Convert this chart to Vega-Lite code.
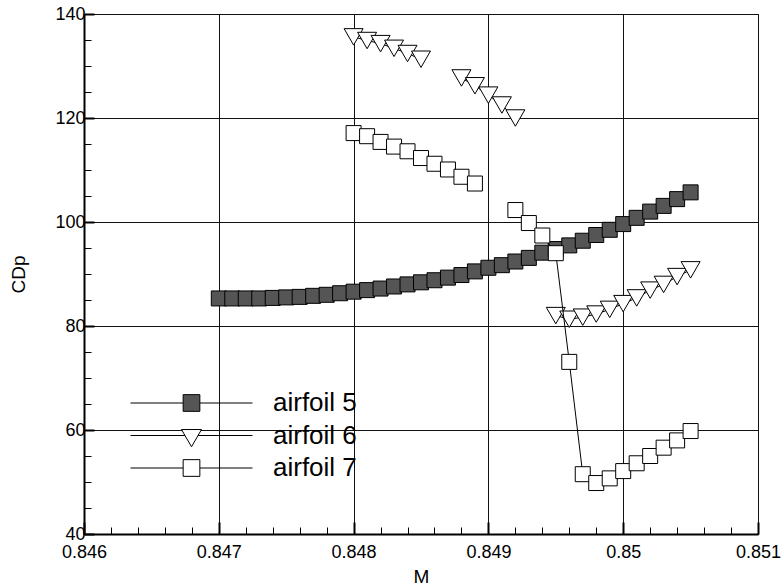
{
  "$schema": "https://vega.github.io/schema/vega-lite/v6.json",
  "width": 674,
  "height": 520,
  "autosize": {"type": "none"},
  "padding": {"left": 84, "top": 14, "right": 26, "bottom": 52},
  "background": "white",
  "config": {"view": {"stroke": "black", "strokeWidth": 1}, "font": "Liberation Sans"},
  "data": {"values": [
    {"s": "airfoil 5", "seg": "5", "M": 0.847, "CDp": 85.3},
    {"s": "airfoil 5", "seg": "5", "M": 0.8471, "CDp": 85.3},
    {"s": "airfoil 5", "seg": "5", "M": 0.8472, "CDp": 85.3},
    {"s": "airfoil 5", "seg": "5", "M": 0.8473, "CDp": 85.3},
    {"s": "airfoil 5", "seg": "5", "M": 0.8474, "CDp": 85.4},
    {"s": "airfoil 5", "seg": "5", "M": 0.8475, "CDp": 85.5},
    {"s": "airfoil 5", "seg": "5", "M": 0.8476, "CDp": 85.6},
    {"s": "airfoil 5", "seg": "5", "M": 0.8477, "CDp": 85.8},
    {"s": "airfoil 5", "seg": "5", "M": 0.8478, "CDp": 86.0},
    {"s": "airfoil 5", "seg": "5", "M": 0.8479, "CDp": 86.3},
    {"s": "airfoil 5", "seg": "5", "M": 0.848, "CDp": 86.6},
    {"s": "airfoil 5", "seg": "5", "M": 0.8481, "CDp": 86.9},
    {"s": "airfoil 5", "seg": "5", "M": 0.8482, "CDp": 87.2},
    {"s": "airfoil 5", "seg": "5", "M": 0.8483, "CDp": 87.6},
    {"s": "airfoil 5", "seg": "5", "M": 0.8484, "CDp": 88.0},
    {"s": "airfoil 5", "seg": "5", "M": 0.8485, "CDp": 88.4},
    {"s": "airfoil 5", "seg": "5", "M": 0.8486, "CDp": 88.8},
    {"s": "airfoil 5", "seg": "5", "M": 0.8487, "CDp": 89.3},
    {"s": "airfoil 5", "seg": "5", "M": 0.8488, "CDp": 89.8},
    {"s": "airfoil 5", "seg": "5", "M": 0.8489, "CDp": 90.5},
    {"s": "airfoil 5", "seg": "5", "M": 0.849, "CDp": 91.2},
    {"s": "airfoil 5", "seg": "5", "M": 0.8491, "CDp": 91.7},
    {"s": "airfoil 5", "seg": "5", "M": 0.8492, "CDp": 92.4},
    {"s": "airfoil 5", "seg": "5", "M": 0.8493, "CDp": 93.1},
    {"s": "airfoil 5", "seg": "5", "M": 0.8494, "CDp": 94.1},
    {"s": "airfoil 5", "seg": "5", "M": 0.8495, "CDp": 94.8},
    {"s": "airfoil 5", "seg": "5", "M": 0.8496, "CDp": 95.5},
    {"s": "airfoil 5", "seg": "5", "M": 0.8497, "CDp": 96.4},
    {"s": "airfoil 5", "seg": "5", "M": 0.8498, "CDp": 97.5},
    {"s": "airfoil 5", "seg": "5", "M": 0.8499, "CDp": 98.5},
    {"s": "airfoil 5", "seg": "5", "M": 0.85, "CDp": 99.6},
    {"s": "airfoil 5", "seg": "5", "M": 0.8501, "CDp": 100.8},
    {"s": "airfoil 5", "seg": "5", "M": 0.8502, "CDp": 102.0},
    {"s": "airfoil 5", "seg": "5", "M": 0.8503, "CDp": 103.1},
    {"s": "airfoil 5", "seg": "5", "M": 0.8504, "CDp": 104.4},
    {"s": "airfoil 5", "seg": "5", "M": 0.8505, "CDp": 105.7},
    {"s": "airfoil 6", "seg": "6a", "M": 0.848, "CDp": 135.6},
    {"s": "airfoil 6", "seg": "6a", "M": 0.8481, "CDp": 134.9},
    {"s": "airfoil 6", "seg": "6a", "M": 0.8482, "CDp": 134.3},
    {"s": "airfoil 6", "seg": "6a", "M": 0.8483, "CDp": 133.4},
    {"s": "airfoil 6", "seg": "6a", "M": 0.8484, "CDp": 132.4},
    {"s": "airfoil 6", "seg": "6a", "M": 0.8485, "CDp": 131.3},
    {"s": "airfoil 6", "seg": "6b", "M": 0.8488, "CDp": 127.7},
    {"s": "airfoil 6", "seg": "6b", "M": 0.8489, "CDp": 126.2},
    {"s": "airfoil 6", "seg": "6b", "M": 0.849, "CDp": 124.4},
    {"s": "airfoil 6", "seg": "6b", "M": 0.8491, "CDp": 122.5},
    {"s": "airfoil 6", "seg": "6b", "M": 0.8492, "CDp": 120.0},
    {"s": "airfoil 6", "seg": "6c", "M": 0.8495, "CDp": 82.0},
    {"s": "airfoil 6", "seg": "6c", "M": 0.8496, "CDp": 81.3},
    {"s": "airfoil 6", "seg": "6c", "M": 0.8497, "CDp": 81.7},
    {"s": "airfoil 6", "seg": "6c", "M": 0.8498, "CDp": 82.3},
    {"s": "airfoil 6", "seg": "6c", "M": 0.8499, "CDp": 83.2},
    {"s": "airfoil 6", "seg": "6c", "M": 0.85, "CDp": 84.3},
    {"s": "airfoil 6", "seg": "6c", "M": 0.8501, "CDp": 85.4},
    {"s": "airfoil 6", "seg": "6c", "M": 0.8502, "CDp": 86.9},
    {"s": "airfoil 6", "seg": "6c", "M": 0.8503, "CDp": 88.0},
    {"s": "airfoil 6", "seg": "6c", "M": 0.8504, "CDp": 89.5},
    {"s": "airfoil 6", "seg": "6c", "M": 0.8505, "CDp": 90.8},
    {"s": "airfoil 7", "seg": "7a", "M": 0.848, "CDp": 117.1},
    {"s": "airfoil 7", "seg": "7a", "M": 0.8481, "CDp": 116.5},
    {"s": "airfoil 7", "seg": "7a", "M": 0.8482, "CDp": 115.4},
    {"s": "airfoil 7", "seg": "7a", "M": 0.8483, "CDp": 114.5},
    {"s": "airfoil 7", "seg": "7a", "M": 0.8484, "CDp": 113.6},
    {"s": "airfoil 7", "seg": "7a", "M": 0.8485, "CDp": 112.3},
    {"s": "airfoil 7", "seg": "7a", "M": 0.8486, "CDp": 111.2},
    {"s": "airfoil 7", "seg": "7a", "M": 0.8487, "CDp": 110.1},
    {"s": "airfoil 7", "seg": "7a", "M": 0.8488, "CDp": 108.7},
    {"s": "airfoil 7", "seg": "7a", "M": 0.8489, "CDp": 107.4},
    {"s": "airfoil 7", "seg": "7b", "M": 0.8492, "CDp": 102.3},
    {"s": "airfoil 7", "seg": "7b", "M": 0.8493, "CDp": 99.8},
    {"s": "airfoil 7", "seg": "7b", "M": 0.8494, "CDp": 97.4},
    {"s": "airfoil 7", "seg": "7b", "M": 0.8495, "CDp": 94.0},
    {"s": "airfoil 7", "seg": "7b", "M": 0.8496, "CDp": 73.1},
    {"s": "airfoil 7", "seg": "7b", "M": 0.8497, "CDp": 51.5},
    {"s": "airfoil 7", "seg": "7b", "M": 0.8498, "CDp": 49.8},
    {"s": "airfoil 7", "seg": "7b", "M": 0.8499, "CDp": 50.7},
    {"s": "airfoil 7", "seg": "7b", "M": 0.85, "CDp": 52.1},
    {"s": "airfoil 7", "seg": "7b", "M": 0.8501, "CDp": 53.6},
    {"s": "airfoil 7", "seg": "7b", "M": 0.8502, "CDp": 55.0},
    {"s": "airfoil 7", "seg": "7b", "M": 0.8503, "CDp": 56.6},
    {"s": "airfoil 7", "seg": "7b", "M": 0.8504, "CDp": 58.0},
    {"s": "airfoil 7", "seg": "7b", "M": 0.8505, "CDp": 59.8}
  ]},
  "encoding": {
    "x": {
      "field": "M", "type": "quantitative",
      "scale": {"domain": [0.846, 0.851], "nice": false, "zero": false},
      "axis": {
        "title": "M",
        "values": [0.846, 0.8462, 0.8464, 0.8466, 0.8468, 0.847, 0.8472, 0.8474, 0.8476, 0.8478, 0.848, 0.8482, 0.8484, 0.8486, 0.8488, 0.849, 0.8492, 0.8494, 0.8496, 0.8498, 0.85, 0.8502, 0.8504, 0.8506, 0.8508, 0.851],
        "labelExpr": "abs(datum.value*1000-round(datum.value*1000))<0.01 ? format(datum.value, '.4~r') : ''",
        "labelFlush": false,
        "labelOverlap": false,
        "labelFont": "Liberation Sans",
        "labelFontSize": 18,
        "labelColor": "black",
        "labelPadding": 21,
        "domainColor": "black",
        "domainWidth": 2,
        "tickColor": "black",
        "tickSize": {"condition": {"test": "abs(datum.value*1000-round(datum.value*1000))<0.01", "value": -12}, "value": -7},
        "tickWidth": {"condition": {"test": "abs(datum.value*1000-round(datum.value*1000))<0.01", "value": 2}, "value": 1},
        "grid": true,
        "gridColor": "#111111",
        "gridWidth": 1,
        "gridOpacity": {"condition": {"test": "abs(datum.value*1000-round(datum.value*1000))<0.01", "value": 1}, "value": 0},
        "titleFont": "Liberation Sans",
        "titleFontSize": 19,
        "titleFontWeight": "normal",
        "titleColor": "black",
        "titlePadding": 1
      }
    },
    "y": {
      "field": "CDp", "type": "quantitative",
      "scale": {"domain": [40, 140], "nice": false, "zero": false},
      "axis": {
        "title": "CDp",
        "values": [40, 45, 50, 55, 60, 65, 70, 75, 80, 85, 90, 95, 100, 105, 110, 115, 120, 125, 130, 135, 140],
        "labelExpr": "datum.value % 20 == 0 ? datum.label : ''",
        "labelOverlap": false,
        "labelFont": "Liberation Sans",
        "labelFontSize": 18,
        "labelColor": "black",
        "labelPadding": 9,
        "domainColor": "black",
        "domainWidth": 2,
        "tickColor": "black",
        "tickSize": {"condition": {"test": "datum.value % 20 == 0", "value": -10}, "value": -7},
        "tickWidth": {"condition": {"test": "datum.value % 20 == 0", "value": 2}, "value": 1},
        "grid": true,
        "gridColor": "#111111",
        "gridWidth": 1,
        "gridOpacity": {"condition": {"test": "datum.value % 20 == 0", "value": 1}, "value": 0},
        "titleFont": "Liberation Sans",
        "titleFontSize": 19,
        "titleFontWeight": "normal",
        "titleColor": "black",
        "titlePadding": 26
      }
    }
  },
  "layer": [
    {
      "transform": [{"filter": "datum.s == 'airfoil 5'"}],
      "mark": {"type": "line", "color": "black", "strokeWidth": 1},
      "encoding": {"detail": {"field": "seg", "type": "nominal"}}
    },
    {
      "transform": [{"filter": "datum.s == 'airfoil 5'"}],
      "mark": {"type": "point", "shape": "square", "filled": true, "fill": "#555555", "stroke": "black", "strokeWidth": 1, "size": 225, "opacity": 1}
    },
    {
      "transform": [{"filter": "datum.s == 'airfoil 6'"}],
      "mark": {"type": "line", "color": "black", "strokeWidth": 1},
      "encoding": {"detail": {"field": "seg", "type": "nominal"}}
    },
    {
      "transform": [{"filter": "datum.s == 'airfoil 6'"}],
      "mark": {"type": "point", "shape": "triangle-down", "filled": true, "fill": "white", "stroke": "black", "strokeWidth": 1, "size": 361, "opacity": 1}
    },
    {
      "transform": [{"filter": "datum.s == 'airfoil 7'"}],
      "mark": {"type": "line", "color": "black", "strokeWidth": 1},
      "encoding": {"detail": {"field": "seg", "type": "nominal"}}
    },
    {
      "transform": [{"filter": "datum.s == 'airfoil 7'"}],
      "mark": {"type": "point", "shape": "square", "filled": true, "fill": "white", "stroke": "black", "strokeWidth": 1, "size": 225, "opacity": 1}
    },
    {
      "transform": [{"filter": "false"}],
      "mark": {"type": "point", "filled": true, "strokeWidth": 1, "opacity": 1},
      "encoding": {
        "shape": {
          "field": "s", "type": "nominal",
          "scale": {"domain": ["airfoil 5", "airfoil 6", "airfoil 7"], "range": ["M-1,0H-0.137M0.137,0H1M-0.137,-0.137H0.137V0.137H-0.137Z", "M-1,0H-0.107M0.107,0H1M-0.164,-0.098H0.164L0,0.185Z", "M-1,0H-0.137M0.137,0H1M-0.137,-0.137H0.137V0.137H-0.137Z"]},
          "legend": {"orient": "none", "legendX": 46, "legendY": 376, "title": null, "symbolSize": 14884, "clipHeight": 26, "labelFont": "Liberation Sans", "labelFontSize": 26, "labelColor": "black", "labelOffset": 20, "rowPadding": 6.5, "symbolStrokeWidth": 1, "padding": 0}
        },
        "fill": {
          "field": "s", "type": "nominal",
          "scale": {"domain": ["airfoil 5", "airfoil 6", "airfoil 7"], "range": ["#555555", "white", "white"]},
          "legend": {"orient": "none", "legendX": 46, "legendY": 376, "title": null, "symbolSize": 14884, "clipHeight": 26, "labelFont": "Liberation Sans", "labelFontSize": 26, "labelColor": "black", "labelOffset": 20, "rowPadding": 6.5, "symbolStrokeWidth": 1, "padding": 0}
        },
        "stroke": {
          "field": "s", "type": "nominal",
          "scale": {"domain": ["airfoil 5", "airfoil 6", "airfoil 7"], "range": ["black", "black", "black"]},
          "legend": {"orient": "none", "legendX": 46, "legendY": 376, "title": null, "symbolSize": 14884, "clipHeight": 26, "labelFont": "Liberation Sans", "labelFontSize": 26, "labelColor": "black", "labelOffset": 20, "rowPadding": 6.5, "symbolStrokeWidth": 1, "padding": 0}
        }
      }
    }
  ]
}
